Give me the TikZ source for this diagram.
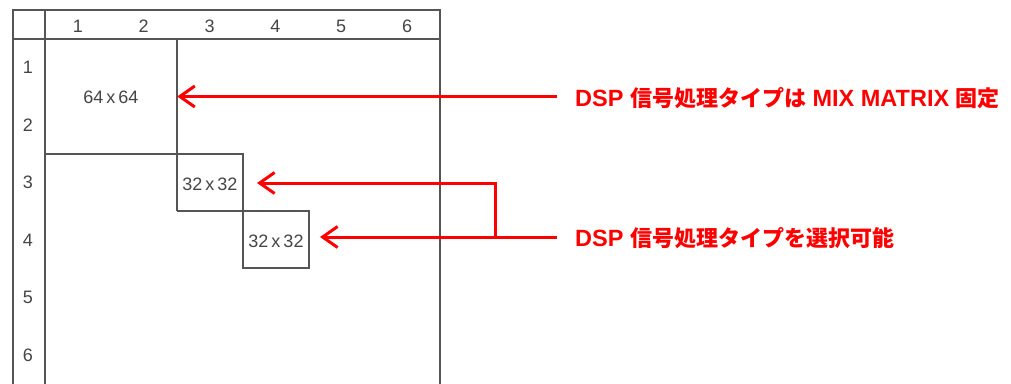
\documentclass[tikz,border=0pt]{standalone}
\usepackage{fontspec}
\setmainfont{Liberation Sans}
\newfontfamily\cjk{Noto Sans CJK JP}
\usetikzlibrary{arrows.meta}
\definecolor{gridc}{HTML}{555555}
\definecolor{txtc}{HTML}{454545}
\definecolor{arrred}{HTML}{FF0000}
\newcommand{\jp}[1]{{\cjk\fontsize{22}{22}\selectfont #1}}
\begin{document}
\begin{tikzpicture}[x=1pt,y=-1pt,
  gridline/.style={draw=gridc,line width=1.4pt},
  blockline/.style={draw=gridc,line width=1.3pt},
  cell/.style={inner sep=0pt,font=\fontsize{18}{18}\selectfont,text=txtc},
  blk/.style={inner sep=0pt,minimum width=0pt,minimum height=0pt},
  lab/.style={anchor=west,inner sep=0pt,text=arrred,font=\fontsize{23.5}{23.5}\selectfont\bfseries},
  redarrow/.style={draw=arrred,line width=3pt,-{Straight Barb[length=15pt,width=21pt]}}]
\useasboundingbox (0,0) rectangle (1011,383);
% grid frame
\draw[gridline] (13,386) -- (13,10) -- (440,10) -- (440,386);
\draw[gridline] (13,39) -- (440,39);
\draw[gridline] (45,10) -- (45,386);
% column and row headers
\foreach \i in {1,...,6} {
  \node[cell] (c\i) at ({45+(\i-0.5)*65.83},26) {\i};
  \node[cell] (r\i) at (28,{39+(\i-0.5)*57.5}) {\i};
}
% blocks
\draw[blockline] (177,39) -- (177,211);
\draw[blockline] (45,154) -- (243,154) -- (243,268) -- (309,268) -- (309,211) -- (177,211);
\node[blk,minimum width=132pt,minimum height=115pt] (b64) at (111,96.5) {};
\node[blk,minimum width=66pt,minimum height=57pt] (b32a) at (210,182.5) {};
\node[blk,minimum width=66pt,minimum height=57pt] (b32b) at (276,239.5) {};
\node[cell] (t64) at (111,97) {64\,x\,64};
\node[cell] (t32a) at (210,184) {32\,x\,32};
\node[cell] (t32b) at (276,241) {32\,x\,32};
% labels
\node[lab] (lab1) at (575,98) {DSP \jp{信号処理タイプは} MIX MATRIX \jp{固定}};
\node[lab] (lab2) at (575,238) {DSP \jp{信号処理タイプを選択可能}};
\coordinate (s1) at (557,96.5);
\coordinate (s3) at (557,237);
\coordinate (j) at (495,237);
\coordinate (e2) at (257,183);
\coordinate (e3) at (320,237);
% arrows
\draw[redarrow] (s1) -- (b64.east);
\draw[redarrow] (s3) -- (e3);
\draw[redarrow] (j) |- (e2);
\end{tikzpicture}
\end{document}
